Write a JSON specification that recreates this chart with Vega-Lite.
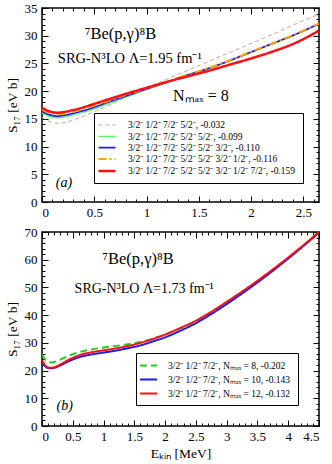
{
"$schema": "https://vega.github.io/schema/vega-lite/v6.json",
"padding": {"left": 4, "top": 1, "right": 2, "bottom": 2},
"background": "white",
"spacing": 5,
"resolve": {"scale": {"x": "independent", "y": "independent", "color": "independent", "strokeDash": "independent", "strokeWidth": "independent"}, "legend": {"color": "independent", "strokeDash": "independent", "strokeWidth": "independent"}, "axis": {"x": "independent", "y": "independent"}},
"config": {
  "font": "Liberation Serif",
  "view": {"stroke": "black", "strokeWidth": 1.5},
  "axis": {"labelFont": "Liberation Serif", "labelFontSize": 13, "labelColor": "black", "titleFont": "Liberation Serif", "titleFontSize": 13.5, "titleFontWeight": "normal", "titleColor": "black", "grid": false, "domain": false, "tickColor": "black", "tickWidth": 1, "zindex": 1},
  "legend": {"labelFont": "Liberation Serif", "labelFontSize": 9.5, "labelColor": "black", "labelLimit": 0, "symbolType": "M-1.9,0H1.9", "symbolSize": 81, "strokeColor": "black", "fillColor": "white", "cornerRadius": 0, "title": null},
  "text": {"font": "Liberation Serif", "color": "black"}
},
"datasets": {
"a": [
{"x":0,"y":15.3,"s":"3/2⁻ 1/2⁻ 7/2⁻ 5/2⁻, -0.032"},{"x":0.05,"y":14.7,"s":"3/2⁻ 1/2⁻ 7/2⁻ 5/2⁻, -0.032"},{"x":0.1,"y":14.35,"s":"3/2⁻ 1/2⁻ 7/2⁻ 5/2⁻, -0.032"},{"x":0.15,"y":14.2,"s":"3/2⁻ 1/2⁻ 7/2⁻ 5/2⁻, -0.032"},{"x":0.2,"y":14.3,"s":"3/2⁻ 1/2⁻ 7/2⁻ 5/2⁻, -0.032"},{"x":0.3,"y":14.8,"s":"3/2⁻ 1/2⁻ 7/2⁻ 5/2⁻, -0.032"},{"x":0.4,"y":15.5,"s":"3/2⁻ 1/2⁻ 7/2⁻ 5/2⁻, -0.032"},{"x":0.5,"y":16.3,"s":"3/2⁻ 1/2⁻ 7/2⁻ 5/2⁻, -0.032"},{"x":0.6,"y":17.1,"s":"3/2⁻ 1/2⁻ 7/2⁻ 5/2⁻, -0.032"},{"x":0.8,"y":18.9,"s":"3/2⁻ 1/2⁻ 7/2⁻ 5/2⁻, -0.032"},{"x":1.0,"y":20.6,"s":"3/2⁻ 1/2⁻ 7/2⁻ 5/2⁻, -0.032"},{"x":1.2,"y":22.2,"s":"3/2⁻ 1/2⁻ 7/2⁻ 5/2⁻, -0.032"},{"x":1.4,"y":23.8,"s":"3/2⁻ 1/2⁻ 7/2⁻ 5/2⁻, -0.032"},{"x":1.6,"y":25.4,"s":"3/2⁻ 1/2⁻ 7/2⁻ 5/2⁻, -0.032"},{"x":1.8,"y":27.0,"s":"3/2⁻ 1/2⁻ 7/2⁻ 5/2⁻, -0.032"},{"x":2.0,"y":28.6,"s":"3/2⁻ 1/2⁻ 7/2⁻ 5/2⁻, -0.032"},{"x":2.2,"y":30.2,"s":"3/2⁻ 1/2⁻ 7/2⁻ 5/2⁻, -0.032"},{"x":2.4,"y":31.9,"s":"3/2⁻ 1/2⁻ 7/2⁻ 5/2⁻, -0.032"},{"x":2.65,"y":33.9,"s":"3/2⁻ 1/2⁻ 7/2⁻ 5/2⁻, -0.032"},
{"x":0,"y":16.1,"s":"3/2⁻ 1/2⁻ 7/2⁻ 5/2⁻ 5/2⁻, -0.099"},{"x":0.05,"y":15.6,"s":"3/2⁻ 1/2⁻ 7/2⁻ 5/2⁻ 5/2⁻, -0.099"},{"x":0.1,"y":15.3,"s":"3/2⁻ 1/2⁻ 7/2⁻ 5/2⁻ 5/2⁻, -0.099"},{"x":0.15,"y":15.2,"s":"3/2⁻ 1/2⁻ 7/2⁻ 5/2⁻ 5/2⁻, -0.099"},{"x":0.2,"y":15.3,"s":"3/2⁻ 1/2⁻ 7/2⁻ 5/2⁻ 5/2⁻, -0.099"},{"x":0.3,"y":15.7,"s":"3/2⁻ 1/2⁻ 7/2⁻ 5/2⁻ 5/2⁻, -0.099"},{"x":0.4,"y":16.2,"s":"3/2⁻ 1/2⁻ 7/2⁻ 5/2⁻ 5/2⁻, -0.099"},{"x":0.5,"y":16.8,"s":"3/2⁻ 1/2⁻ 7/2⁻ 5/2⁻ 5/2⁻, -0.099"},{"x":0.6,"y":17.5,"s":"3/2⁻ 1/2⁻ 7/2⁻ 5/2⁻ 5/2⁻, -0.099"},{"x":0.8,"y":18.9,"s":"3/2⁻ 1/2⁻ 7/2⁻ 5/2⁻ 5/2⁻, -0.099"},{"x":1.0,"y":20.3,"s":"3/2⁻ 1/2⁻ 7/2⁻ 5/2⁻ 5/2⁻, -0.099"},{"x":1.2,"y":21.6,"s":"3/2⁻ 1/2⁻ 7/2⁻ 5/2⁻ 5/2⁻, -0.099"},{"x":1.4,"y":22.9,"s":"3/2⁻ 1/2⁻ 7/2⁻ 5/2⁻ 5/2⁻, -0.099"},{"x":1.6,"y":24.1,"s":"3/2⁻ 1/2⁻ 7/2⁻ 5/2⁻ 5/2⁻, -0.099"},{"x":1.8,"y":25.5,"s":"3/2⁻ 1/2⁻ 7/2⁻ 5/2⁻ 5/2⁻, -0.099"},{"x":2.0,"y":27.0,"s":"3/2⁻ 1/2⁻ 7/2⁻ 5/2⁻ 5/2⁻, -0.099"},{"x":2.2,"y":28.5,"s":"3/2⁻ 1/2⁻ 7/2⁻ 5/2⁻ 5/2⁻, -0.099"},{"x":2.4,"y":30.0,"s":"3/2⁻ 1/2⁻ 7/2⁻ 5/2⁻ 5/2⁻, -0.099"},{"x":2.65,"y":32.1,"s":"3/2⁻ 1/2⁻ 7/2⁻ 5/2⁻ 5/2⁻, -0.099"},
{"x":0,"y":16.4,"s":"3/2⁻ 1/2⁻ 7/2⁻ 5/2⁻ 5/2⁻ 3/2⁻, -0.110"},{"x":0.05,"y":15.9,"s":"3/2⁻ 1/2⁻ 7/2⁻ 5/2⁻ 5/2⁻ 3/2⁻, -0.110"},{"x":0.1,"y":15.6,"s":"3/2⁻ 1/2⁻ 7/2⁻ 5/2⁻ 5/2⁻ 3/2⁻, -0.110"},{"x":0.15,"y":15.5,"s":"3/2⁻ 1/2⁻ 7/2⁻ 5/2⁻ 5/2⁻ 3/2⁻, -0.110"},{"x":0.2,"y":15.6,"s":"3/2⁻ 1/2⁻ 7/2⁻ 5/2⁻ 5/2⁻ 3/2⁻, -0.110"},{"x":0.3,"y":16.0,"s":"3/2⁻ 1/2⁻ 7/2⁻ 5/2⁻ 5/2⁻ 3/2⁻, -0.110"},{"x":0.4,"y":16.5,"s":"3/2⁻ 1/2⁻ 7/2⁻ 5/2⁻ 5/2⁻ 3/2⁻, -0.110"},{"x":0.5,"y":17.1,"s":"3/2⁻ 1/2⁻ 7/2⁻ 5/2⁻ 5/2⁻ 3/2⁻, -0.110"},{"x":0.6,"y":17.8,"s":"3/2⁻ 1/2⁻ 7/2⁻ 5/2⁻ 5/2⁻ 3/2⁻, -0.110"},{"x":0.8,"y":19.1,"s":"3/2⁻ 1/2⁻ 7/2⁻ 5/2⁻ 5/2⁻ 3/2⁻, -0.110"},{"x":1.0,"y":20.4,"s":"3/2⁻ 1/2⁻ 7/2⁻ 5/2⁻ 5/2⁻ 3/2⁻, -0.110"},{"x":1.2,"y":21.65,"s":"3/2⁻ 1/2⁻ 7/2⁻ 5/2⁻ 5/2⁻ 3/2⁻, -0.110"},{"x":1.4,"y":22.95,"s":"3/2⁻ 1/2⁻ 7/2⁻ 5/2⁻ 5/2⁻ 3/2⁻, -0.110"},{"x":1.6,"y":24.15,"s":"3/2⁻ 1/2⁻ 7/2⁻ 5/2⁻ 5/2⁻ 3/2⁻, -0.110"},{"x":1.8,"y":25.55,"s":"3/2⁻ 1/2⁻ 7/2⁻ 5/2⁻ 5/2⁻ 3/2⁻, -0.110"},{"x":2.0,"y":27.05,"s":"3/2⁻ 1/2⁻ 7/2⁻ 5/2⁻ 5/2⁻ 3/2⁻, -0.110"},{"x":2.2,"y":28.55,"s":"3/2⁻ 1/2⁻ 7/2⁻ 5/2⁻ 5/2⁻ 3/2⁻, -0.110"},{"x":2.4,"y":30.05,"s":"3/2⁻ 1/2⁻ 7/2⁻ 5/2⁻ 5/2⁻ 3/2⁻, -0.110"},{"x":2.65,"y":32.15,"s":"3/2⁻ 1/2⁻ 7/2⁻ 5/2⁻ 5/2⁻ 3/2⁻, -0.110"},
{"x":0,"y":16.7,"s":"3/2⁻ 1/2⁻ 7/2⁻ 5/2⁻ 5/2⁻ 3/2⁻ 1/2⁻, -0.116"},{"x":0.05,"y":16.2,"s":"3/2⁻ 1/2⁻ 7/2⁻ 5/2⁻ 5/2⁻ 3/2⁻ 1/2⁻, -0.116"},{"x":0.1,"y":15.9,"s":"3/2⁻ 1/2⁻ 7/2⁻ 5/2⁻ 5/2⁻ 3/2⁻ 1/2⁻, -0.116"},{"x":0.15,"y":15.8,"s":"3/2⁻ 1/2⁻ 7/2⁻ 5/2⁻ 5/2⁻ 3/2⁻ 1/2⁻, -0.116"},{"x":0.2,"y":15.9,"s":"3/2⁻ 1/2⁻ 7/2⁻ 5/2⁻ 5/2⁻ 3/2⁻ 1/2⁻, -0.116"},{"x":0.3,"y":16.3,"s":"3/2⁻ 1/2⁻ 7/2⁻ 5/2⁻ 5/2⁻ 3/2⁻ 1/2⁻, -0.116"},{"x":0.4,"y":16.8,"s":"3/2⁻ 1/2⁻ 7/2⁻ 5/2⁻ 5/2⁻ 3/2⁻ 1/2⁻, -0.116"},{"x":0.5,"y":17.4,"s":"3/2⁻ 1/2⁻ 7/2⁻ 5/2⁻ 5/2⁻ 3/2⁻ 1/2⁻, -0.116"},{"x":0.6,"y":18.0,"s":"3/2⁻ 1/2⁻ 7/2⁻ 5/2⁻ 5/2⁻ 3/2⁻ 1/2⁻, -0.116"},{"x":0.8,"y":19.3,"s":"3/2⁻ 1/2⁻ 7/2⁻ 5/2⁻ 5/2⁻ 3/2⁻ 1/2⁻, -0.116"},{"x":1.0,"y":20.5,"s":"3/2⁻ 1/2⁻ 7/2⁻ 5/2⁻ 5/2⁻ 3/2⁻ 1/2⁻, -0.116"},{"x":1.2,"y":21.7,"s":"3/2⁻ 1/2⁻ 7/2⁻ 5/2⁻ 5/2⁻ 3/2⁻ 1/2⁻, -0.116"},{"x":1.4,"y":23.0,"s":"3/2⁻ 1/2⁻ 7/2⁻ 5/2⁻ 5/2⁻ 3/2⁻ 1/2⁻, -0.116"},{"x":1.6,"y":24.2,"s":"3/2⁻ 1/2⁻ 7/2⁻ 5/2⁻ 5/2⁻ 3/2⁻ 1/2⁻, -0.116"},{"x":1.8,"y":25.6,"s":"3/2⁻ 1/2⁻ 7/2⁻ 5/2⁻ 5/2⁻ 3/2⁻ 1/2⁻, -0.116"},{"x":2.0,"y":27.1,"s":"3/2⁻ 1/2⁻ 7/2⁻ 5/2⁻ 5/2⁻ 3/2⁻ 1/2⁻, -0.116"},{"x":2.2,"y":28.6,"s":"3/2⁻ 1/2⁻ 7/2⁻ 5/2⁻ 5/2⁻ 3/2⁻ 1/2⁻, -0.116"},{"x":2.4,"y":30.1,"s":"3/2⁻ 1/2⁻ 7/2⁻ 5/2⁻ 5/2⁻ 3/2⁻ 1/2⁻, -0.116"},{"x":2.65,"y":32.2,"s":"3/2⁻ 1/2⁻ 7/2⁻ 5/2⁻ 5/2⁻ 3/2⁻ 1/2⁻, -0.116"},
{"x":0,"y":17.0,"s":"3/2⁻ 1/2⁻ 7/2⁻ 5/2⁻ 5/2⁻ 3/2⁻ 1/2⁻ 7/2⁻, -0.159"},{"x":0.05,"y":16.5,"s":"3/2⁻ 1/2⁻ 7/2⁻ 5/2⁻ 5/2⁻ 3/2⁻ 1/2⁻ 7/2⁻, -0.159"},{"x":0.1,"y":16.2,"s":"3/2⁻ 1/2⁻ 7/2⁻ 5/2⁻ 5/2⁻ 3/2⁻ 1/2⁻ 7/2⁻, -0.159"},{"x":0.15,"y":16.1,"s":"3/2⁻ 1/2⁻ 7/2⁻ 5/2⁻ 5/2⁻ 3/2⁻ 1/2⁻ 7/2⁻, -0.159"},{"x":0.2,"y":16.2,"s":"3/2⁻ 1/2⁻ 7/2⁻ 5/2⁻ 5/2⁻ 3/2⁻ 1/2⁻ 7/2⁻, -0.159"},{"x":0.3,"y":16.6,"s":"3/2⁻ 1/2⁻ 7/2⁻ 5/2⁻ 5/2⁻ 3/2⁻ 1/2⁻ 7/2⁻, -0.159"},{"x":0.4,"y":17.1,"s":"3/2⁻ 1/2⁻ 7/2⁻ 5/2⁻ 5/2⁻ 3/2⁻ 1/2⁻ 7/2⁻, -0.159"},{"x":0.5,"y":17.7,"s":"3/2⁻ 1/2⁻ 7/2⁻ 5/2⁻ 5/2⁻ 3/2⁻ 1/2⁻ 7/2⁻, -0.159"},{"x":0.6,"y":18.3,"s":"3/2⁻ 1/2⁻ 7/2⁻ 5/2⁻ 5/2⁻ 3/2⁻ 1/2⁻ 7/2⁻, -0.159"},{"x":0.8,"y":19.5,"s":"3/2⁻ 1/2⁻ 7/2⁻ 5/2⁻ 5/2⁻ 3/2⁻ 1/2⁻ 7/2⁻, -0.159"},{"x":1.0,"y":20.6,"s":"3/2⁻ 1/2⁻ 7/2⁻ 5/2⁻ 5/2⁻ 3/2⁻ 1/2⁻ 7/2⁻, -0.159"},{"x":1.2,"y":21.7,"s":"3/2⁻ 1/2⁻ 7/2⁻ 5/2⁻ 5/2⁻ 3/2⁻ 1/2⁻ 7/2⁻, -0.159"},{"x":1.4,"y":22.7,"s":"3/2⁻ 1/2⁻ 7/2⁻ 5/2⁻ 5/2⁻ 3/2⁻ 1/2⁻ 7/2⁻, -0.159"},{"x":1.6,"y":23.7,"s":"3/2⁻ 1/2⁻ 7/2⁻ 5/2⁻ 5/2⁻ 3/2⁻ 1/2⁻ 7/2⁻, -0.159"},{"x":1.8,"y":24.8,"s":"3/2⁻ 1/2⁻ 7/2⁻ 5/2⁻ 5/2⁻ 3/2⁻ 1/2⁻ 7/2⁻, -0.159"},{"x":2.0,"y":25.9,"s":"3/2⁻ 1/2⁻ 7/2⁻ 5/2⁻ 5/2⁻ 3/2⁻ 1/2⁻ 7/2⁻, -0.159"},{"x":2.2,"y":27.1,"s":"3/2⁻ 1/2⁻ 7/2⁻ 5/2⁻ 5/2⁻ 3/2⁻ 1/2⁻ 7/2⁻, -0.159"},{"x":2.4,"y":28.5,"s":"3/2⁻ 1/2⁻ 7/2⁻ 5/2⁻ 5/2⁻ 3/2⁻ 1/2⁻ 7/2⁻, -0.159"},{"x":2.65,"y":30.9,"s":"3/2⁻ 1/2⁻ 7/2⁻ 5/2⁻ 5/2⁻ 3/2⁻ 1/2⁻ 7/2⁻, -0.159"}
],
"b": [
{"x":0,"y":25.8,"s":"3/2⁻ 1/2⁻ 7/2⁻, Nₘₐₓ = 8, -0.202"},{"x":0.05,"y":24.0,"s":"3/2⁻ 1/2⁻ 7/2⁻, Nₘₐₓ = 8, -0.202"},{"x":0.1,"y":23.1,"s":"3/2⁻ 1/2⁻ 7/2⁻, Nₘₐₓ = 8, -0.202"},{"x":0.15,"y":22.9,"s":"3/2⁻ 1/2⁻ 7/2⁻, Nₘₐₓ = 8, -0.202"},{"x":0.2,"y":23.1,"s":"3/2⁻ 1/2⁻ 7/2⁻, Nₘₐₓ = 8, -0.202"},{"x":0.3,"y":24.0,"s":"3/2⁻ 1/2⁻ 7/2⁻, Nₘₐₓ = 8, -0.202"},{"x":0.4,"y":25.0,"s":"3/2⁻ 1/2⁻ 7/2⁻, Nₘₐₓ = 8, -0.202"},{"x":0.5,"y":25.9,"s":"3/2⁻ 1/2⁻ 7/2⁻, Nₘₐₓ = 8, -0.202"},{"x":0.6,"y":26.6,"s":"3/2⁻ 1/2⁻ 7/2⁻, Nₘₐₓ = 8, -0.202"},{"x":0.8,"y":27.6,"s":"3/2⁻ 1/2⁻ 7/2⁻, Nₘₐₓ = 8, -0.202"},{"x":1.0,"y":28.3,"s":"3/2⁻ 1/2⁻ 7/2⁻, Nₘₐₓ = 8, -0.202"},{"x":1.2,"y":28.9,"s":"3/2⁻ 1/2⁻ 7/2⁻, Nₘₐₓ = 8, -0.202"},{"x":1.4,"y":29.5,"s":"3/2⁻ 1/2⁻ 7/2⁻, Nₘₐₓ = 8, -0.202"},{"x":1.6,"y":30.3,"s":"3/2⁻ 1/2⁻ 7/2⁻, Nₘₐₓ = 8, -0.202"},{"x":1.8,"y":31.5,"s":"3/2⁻ 1/2⁻ 7/2⁻, Nₘₐₓ = 8, -0.202"},{"x":2.0,"y":33.0,"s":"3/2⁻ 1/2⁻ 7/2⁻, Nₘₐₓ = 8, -0.202"},{"x":2.25,"y":35.3,"s":"3/2⁻ 1/2⁻ 7/2⁻, Nₘₐₓ = 8, -0.202"},{"x":2.5,"y":37.9,"s":"3/2⁻ 1/2⁻ 7/2⁻, Nₘₐₓ = 8, -0.202"},{"x":2.75,"y":41.1,"s":"3/2⁻ 1/2⁻ 7/2⁻, Nₘₐₓ = 8, -0.202"},{"x":3.0,"y":44.7,"s":"3/2⁻ 1/2⁻ 7/2⁻, Nₘₐₓ = 8, -0.202"},{"x":3.25,"y":48.4,"s":"3/2⁻ 1/2⁻ 7/2⁻, Nₘₐₓ = 8, -0.202"},{"x":3.5,"y":52.3,"s":"3/2⁻ 1/2⁻ 7/2⁻, Nₘₐₓ = 8, -0.202"},{"x":3.75,"y":56.4,"s":"3/2⁻ 1/2⁻ 7/2⁻, Nₘₐₓ = 8, -0.202"},{"x":4.0,"y":60.7,"s":"3/2⁻ 1/2⁻ 7/2⁻, Nₘₐₓ = 8, -0.202"},{"x":4.25,"y":65.2,"s":"3/2⁻ 1/2⁻ 7/2⁻, Nₘₐₓ = 8, -0.202"},{"x":4.5,"y":70.0,"s":"3/2⁻ 1/2⁻ 7/2⁻, Nₘₐₓ = 8, -0.202"},
{"x":0,"y":23.5,"s":"3/2⁻ 1/2⁻ 7/2⁻, Nₘₐₓ = 10, -0.143"},{"x":0.05,"y":21.6,"s":"3/2⁻ 1/2⁻ 7/2⁻, Nₘₐₓ = 10, -0.143"},{"x":0.1,"y":20.9,"s":"3/2⁻ 1/2⁻ 7/2⁻, Nₘₐₓ = 10, -0.143"},{"x":0.15,"y":20.8,"s":"3/2⁻ 1/2⁻ 7/2⁻, Nₘₐₓ = 10, -0.143"},{"x":0.2,"y":21.0,"s":"3/2⁻ 1/2⁻ 7/2⁻, Nₘₐₓ = 10, -0.143"},{"x":0.3,"y":21.9,"s":"3/2⁻ 1/2⁻ 7/2⁻, Nₘₐₓ = 10, -0.143"},{"x":0.4,"y":23.0,"s":"3/2⁻ 1/2⁻ 7/2⁻, Nₘₐₓ = 10, -0.143"},{"x":0.5,"y":24.0,"s":"3/2⁻ 1/2⁻ 7/2⁻, Nₘₐₓ = 10, -0.143"},{"x":0.6,"y":24.8,"s":"3/2⁻ 1/2⁻ 7/2⁻, Nₘₐₓ = 10, -0.143"},{"x":0.8,"y":25.8,"s":"3/2⁻ 1/2⁻ 7/2⁻, Nₘₐₓ = 10, -0.143"},{"x":1.0,"y":26.5,"s":"3/2⁻ 1/2⁻ 7/2⁻, Nₘₐₓ = 10, -0.143"},{"x":1.2,"y":27.2,"s":"3/2⁻ 1/2⁻ 7/2⁻, Nₘₐₓ = 10, -0.143"},{"x":1.4,"y":28.1,"s":"3/2⁻ 1/2⁻ 7/2⁻, Nₘₐₓ = 10, -0.143"},{"x":1.6,"y":29.1,"s":"3/2⁻ 1/2⁻ 7/2⁻, Nₘₐₓ = 10, -0.143"},{"x":1.8,"y":30.5,"s":"3/2⁻ 1/2⁻ 7/2⁻, Nₘₐₓ = 10, -0.143"},{"x":2.0,"y":32.0,"s":"3/2⁻ 1/2⁻ 7/2⁻, Nₘₐₓ = 10, -0.143"},{"x":2.25,"y":34.4,"s":"3/2⁻ 1/2⁻ 7/2⁻, Nₘₐₓ = 10, -0.143"},{"x":2.5,"y":37.1,"s":"3/2⁻ 1/2⁻ 7/2⁻, Nₘₐₓ = 10, -0.143"},{"x":2.75,"y":40.4,"s":"3/2⁻ 1/2⁻ 7/2⁻, Nₘₐₓ = 10, -0.143"},{"x":3.0,"y":44.0,"s":"3/2⁻ 1/2⁻ 7/2⁻, Nₘₐₓ = 10, -0.143"},{"x":3.25,"y":47.8,"s":"3/2⁻ 1/2⁻ 7/2⁻, Nₘₐₓ = 10, -0.143"},{"x":3.5,"y":51.8,"s":"3/2⁻ 1/2⁻ 7/2⁻, Nₘₐₓ = 10, -0.143"},{"x":3.75,"y":56.0,"s":"3/2⁻ 1/2⁻ 7/2⁻, Nₘₐₓ = 10, -0.143"},{"x":4.0,"y":60.4,"s":"3/2⁻ 1/2⁻ 7/2⁻, Nₘₐₓ = 10, -0.143"},{"x":4.25,"y":65.0,"s":"3/2⁻ 1/2⁻ 7/2⁻, Nₘₐₓ = 10, -0.143"},{"x":4.5,"y":69.8,"s":"3/2⁻ 1/2⁻ 7/2⁻, Nₘₐₓ = 10, -0.143"},
{"x":0,"y":23.8,"s":"3/2⁻ 1/2⁻ 7/2⁻, Nₘₐₓ = 12, -0.132"},{"x":0.05,"y":21.9,"s":"3/2⁻ 1/2⁻ 7/2⁻, Nₘₐₓ = 12, -0.132"},{"x":0.1,"y":21.1,"s":"3/2⁻ 1/2⁻ 7/2⁻, Nₘₐₓ = 12, -0.132"},{"x":0.15,"y":21.0,"s":"3/2⁻ 1/2⁻ 7/2⁻, Nₘₐₓ = 12, -0.132"},{"x":0.2,"y":21.2,"s":"3/2⁻ 1/2⁻ 7/2⁻, Nₘₐₓ = 12, -0.132"},{"x":0.3,"y":22.2,"s":"3/2⁻ 1/2⁻ 7/2⁻, Nₘₐₓ = 12, -0.132"},{"x":0.4,"y":23.5,"s":"3/2⁻ 1/2⁻ 7/2⁻, Nₘₐₓ = 12, -0.132"},{"x":0.5,"y":24.6,"s":"3/2⁻ 1/2⁻ 7/2⁻, Nₘₐₓ = 12, -0.132"},{"x":0.6,"y":25.5,"s":"3/2⁻ 1/2⁻ 7/2⁻, Nₘₐₓ = 12, -0.132"},{"x":0.8,"y":26.6,"s":"3/2⁻ 1/2⁻ 7/2⁻, Nₘₐₓ = 12, -0.132"},{"x":1.0,"y":27.3,"s":"3/2⁻ 1/2⁻ 7/2⁻, Nₘₐₓ = 12, -0.132"},{"x":1.2,"y":28.0,"s":"3/2⁻ 1/2⁻ 7/2⁻, Nₘₐₓ = 12, -0.132"},{"x":1.4,"y":28.9,"s":"3/2⁻ 1/2⁻ 7/2⁻, Nₘₐₓ = 12, -0.132"},{"x":1.6,"y":30.0,"s":"3/2⁻ 1/2⁻ 7/2⁻, Nₘₐₓ = 12, -0.132"},{"x":1.8,"y":31.4,"s":"3/2⁻ 1/2⁻ 7/2⁻, Nₘₐₓ = 12, -0.132"},{"x":2.0,"y":33.0,"s":"3/2⁻ 1/2⁻ 7/2⁻, Nₘₐₓ = 12, -0.132"},{"x":2.25,"y":35.4,"s":"3/2⁻ 1/2⁻ 7/2⁻, Nₘₐₓ = 12, -0.132"},{"x":2.5,"y":38.0,"s":"3/2⁻ 1/2⁻ 7/2⁻, Nₘₐₓ = 12, -0.132"},{"x":2.75,"y":41.2,"s":"3/2⁻ 1/2⁻ 7/2⁻, Nₘₐₓ = 12, -0.132"},{"x":3.0,"y":44.8,"s":"3/2⁻ 1/2⁻ 7/2⁻, Nₘₐₓ = 12, -0.132"},{"x":3.25,"y":48.5,"s":"3/2⁻ 1/2⁻ 7/2⁻, Nₘₐₓ = 12, -0.132"},{"x":3.5,"y":52.4,"s":"3/2⁻ 1/2⁻ 7/2⁻, Nₘₐₓ = 12, -0.132"},{"x":3.75,"y":56.5,"s":"3/2⁻ 1/2⁻ 7/2⁻, Nₘₐₓ = 12, -0.132"},{"x":4.0,"y":60.8,"s":"3/2⁻ 1/2⁻ 7/2⁻, Nₘₐₓ = 12, -0.132"},{"x":4.25,"y":65.3,"s":"3/2⁻ 1/2⁻ 7/2⁻, Nₘₐₓ = 12, -0.132"},{"x":4.5,"y":70.0,"s":"3/2⁻ 1/2⁻ 7/2⁻, Nₘₐₓ = 12, -0.132"}
]
},
"vconcat": [
{
  "width": 277, "height": 194,
  "data": {"name": "a"},
  "resolve": {"axis": {"x": "independent", "y": "independent"}},
  "layer": [
    {
      "mark": {"type": "line", "interpolate": "monotone", "clip": true},
      "encoding": {
        "x": {"field": "x", "type": "quantitative", "scale": {"domain": [0, 2.65], "nice": false, "zero": false}, "axis": {"orient": "bottom", "values": [0, 0.5, 1, 1.5, 2, 2.5], "format": "~g", "ticks": false, "labelPadding": 4, "title": null}},
        "y": {"field": "y", "type": "quantitative", "scale": {"domain": [0, 35], "nice": false}, "axis": {"orient": "left", "values": [0, 5, 10, 15, 20, 25, 30, 35], "ticks": false, "labelPadding": 5, "title": "S₁₇ [eV b]", "titlePadding": 5}},
        "color": {"field": "s", "type": "nominal", "scale": {"domain": ["3/2⁻ 1/2⁻ 7/2⁻ 5/2⁻, -0.032", "3/2⁻ 1/2⁻ 7/2⁻ 5/2⁻ 5/2⁻, -0.099", "3/2⁻ 1/2⁻ 7/2⁻ 5/2⁻ 5/2⁻ 3/2⁻, -0.110", "3/2⁻ 1/2⁻ 7/2⁻ 5/2⁻ 5/2⁻ 3/2⁻ 1/2⁻, -0.116", "3/2⁻ 1/2⁻ 7/2⁻ 5/2⁻ 5/2⁻ 3/2⁻ 1/2⁻ 7/2⁻, -0.159"], "range": ["#c9a0a0", "#66f266", "#1a1aff", "#ffa500", "#ff1010"]}, "legend": {"orient": "none", "legendX": 52, "legendY": 105, "padding": 7, "rowPadding": 1, "labelOffset": 15}},
        "strokeDash": {"field": "s", "type": "nominal", "scale": {"domain": ["3/2⁻ 1/2⁻ 7/2⁻ 5/2⁻, -0.032", "3/2⁻ 1/2⁻ 7/2⁻ 5/2⁻ 5/2⁻, -0.099", "3/2⁻ 1/2⁻ 7/2⁻ 5/2⁻ 5/2⁻ 3/2⁻, -0.110", "3/2⁻ 1/2⁻ 7/2⁻ 5/2⁻ 5/2⁻ 3/2⁻ 1/2⁻, -0.116", "3/2⁻ 1/2⁻ 7/2⁻ 5/2⁻ 5/2⁻ 3/2⁻ 1/2⁻ 7/2⁻, -0.159"], "range": [[4, 3], [1, 0], [1, 0], [8, 3, 2, 3], [1, 0]]}, "legend": {"orient": "none", "legendX": 52, "legendY": 105, "padding": 7, "rowPadding": 1, "labelOffset": 15}},
        "strokeWidth": {"field": "s", "type": "nominal", "scale": {"domain": ["3/2⁻ 1/2⁻ 7/2⁻ 5/2⁻, -0.032", "3/2⁻ 1/2⁻ 7/2⁻ 5/2⁻ 5/2⁻, -0.099", "3/2⁻ 1/2⁻ 7/2⁻ 5/2⁻ 5/2⁻ 3/2⁻, -0.110", "3/2⁻ 1/2⁻ 7/2⁻ 5/2⁻ 5/2⁻ 3/2⁻ 1/2⁻, -0.116", "3/2⁻ 1/2⁻ 7/2⁻ 5/2⁻ 5/2⁻ 3/2⁻ 1/2⁻ 7/2⁻, -0.159"], "range": [1, 2.5, 1.5, 2.5, 2.5]}, "legend": {"orient": "none", "legendX": 52, "legendY": 105, "padding": 7, "rowPadding": 1, "labelOffset": 15}}
      }
    },
    {
      "data": {"values": [{}]},
      "mark": {"type": "point", "opacity": 0},
      "encoding": {
        "x": {"datum": 0, "type": "quantitative", "axis": {"orient": "bottom", "values": [0, 0.5, 1, 1.5, 2, 2.5], "labels": false, "tickSize": -6, "title": null}},
        "y": {"datum": 0, "type": "quantitative", "axis": {"orient": "left", "values": [0, 5, 10, 15, 20, 25, 30, 35], "labels": false, "tickSize": -6, "title": null}}
      }
    },
    {
      "data": {"values": [{}]},
      "mark": {"type": "point", "opacity": 0},
      "encoding": {
        "x": {"datum": 0, "type": "quantitative", "axis": {"orient": "top", "values": [0, 0.5, 1, 1.5, 2, 2.5], "labels": false, "tickSize": -6, "title": null}},
        "y": {"datum": 0, "type": "quantitative", "axis": {"orient": "right", "values": [0, 5, 10, 15, 20, 25, 30, 35], "labels": false, "tickSize": -6, "title": null}}
      }
    },
    {
      "data": {"values": [{}]},
      "mark": {"type": "point", "opacity": 0},
      "encoding": {
        "x": {"datum": 0, "type": "quantitative", "axis": {"orient": "bottom", "values": [0.1,0.2,0.3,0.4,0.6,0.7,0.8,0.9,1.1,1.2,1.3,1.4,1.6,1.7,1.8,1.9,2.1,2.2,2.3,2.4,2.6], "labels": false, "tickSize": -3, "title": null}},
        "y": {"datum": 0, "type": "quantitative", "axis": {"orient": "left", "values": [1,2,3,4,6,7,8,9,11,12,13,14,16,17,18,19,21,22,23,24,26,27,28,29,31,32,33,34], "labels": false, "tickSize": -3, "title": null}}
      }
    },
    {
      "data": {"values": [{}]},
      "mark": {"type": "point", "opacity": 0},
      "encoding": {
        "x": {"datum": 0, "type": "quantitative", "axis": {"orient": "top", "values": [0.1,0.2,0.3,0.4,0.6,0.7,0.8,0.9,1.1,1.2,1.3,1.4,1.6,1.7,1.8,1.9,2.1,2.2,2.3,2.4,2.6], "labels": false, "tickSize": -3, "title": null}},
        "y": {"datum": 0, "type": "quantitative", "axis": {"orient": "right", "values": [1,2,3,4,6,7,8,9,11,12,13,14,16,17,18,19,21,22,23,24,26,27,28,29,31,32,33,34], "labels": false, "tickSize": -3, "title": null}}
      }
    },
    {
      "data": {"values": [{}]},
      "mark": {"type": "text", "fontSize": 16.5, "align": "center", "baseline": "middle"},
      "encoding": {"x": {"datum": 0.75, "type": "quantitative", "axis": null}, "y": {"datum": 30.3, "type": "quantitative", "axis": null}, "text": {"value": "⁷Be(p,γ)⁸B"}}
    },
    {
      "data": {"values": [{}]},
      "mark": {"type": "text", "fontSize": 14.5, "align": "center", "baseline": "middle"},
      "encoding": {"x": {"datum": 0.84, "type": "quantitative", "axis": null}, "y": {"datum": 25.8, "type": "quantitative", "axis": null}, "text": {"value": "SRG-N³LO Λ=1.95 fm⁻¹"}}
    },
    {
      "data": {"values": [{}]},
      "mark": {"type": "text", "fontSize": 16, "align": "center", "baseline": "middle"},
      "encoding": {"x": {"datum": 1.52, "type": "quantitative", "axis": null}, "y": {"datum": 19.1, "type": "quantitative", "axis": null}, "text": {"value": "Nₘₐₓ = 8"}}
    },
    {
      "data": {"values": [{}]},
      "mark": {"type": "text", "fontSize": 14, "fontStyle": "italic", "align": "center", "baseline": "middle"},
      "encoding": {"x": {"datum": 0.21, "type": "quantitative", "axis": null}, "y": {"datum": 3.4, "type": "quantitative", "axis": null}, "text": {"value": "(a)"}}
    }
  ]
},
{
  "width": 277, "height": 194,
  "data": {"name": "b"},
  "resolve": {"axis": {"x": "independent", "y": "independent"}},
  "layer": [
    {
      "mark": {"type": "line", "interpolate": "monotone", "clip": true},
      "encoding": {
        "x": {"field": "x", "type": "quantitative", "scale": {"domain": [0, 4.5], "nice": false, "zero": false}, "axis": {"orient": "bottom", "values": [0, 0.5, 1, 1.5, 2, 2.5, 3, 3.5, 4, 4.5], "format": "~g", "ticks": false, "labelPadding": 4, "title": "Eₖᵢₙ [MeV]", "titlePadding": 3}},
        "y": {"field": "y", "type": "quantitative", "scale": {"domain": [0, 70], "nice": false}, "axis": {"orient": "left", "values": [0, 10, 20, 30, 40, 50, 60, 70], "ticks": false, "labelPadding": 5, "title": "S₁₇ [eV b]", "titlePadding": 5}},
        "color": {"field": "s", "type": "nominal", "scale": {"domain": ["3/2⁻ 1/2⁻ 7/2⁻, Nₘₐₓ = 8, -0.202", "3/2⁻ 1/2⁻ 7/2⁻, Nₘₐₓ = 10, -0.143", "3/2⁻ 1/2⁻ 7/2⁻, Nₘₐₓ = 12, -0.132"], "range": ["#22d022", "#1a1aff", "#ff1010"]}, "legend": {"orient": "none", "legendX": 94, "legendY": 121, "padding": 7, "rowPadding": 4, "labelOffset": 14}},
        "strokeDash": {"field": "s", "type": "nominal", "scale": {"domain": ["3/2⁻ 1/2⁻ 7/2⁻, Nₘₐₓ = 8, -0.202", "3/2⁻ 1/2⁻ 7/2⁻, Nₘₐₓ = 10, -0.143", "3/2⁻ 1/2⁻ 7/2⁻, Nₘₐₓ = 12, -0.132"], "range": [[7, 4], [1, 0], [1, 0]]}, "legend": {"orient": "none", "legendX": 94, "legendY": 121, "padding": 7, "rowPadding": 4, "labelOffset": 14}},
        "strokeWidth": {"field": "s", "type": "nominal", "scale": {"domain": ["3/2⁻ 1/2⁻ 7/2⁻, Nₘₐₓ = 8, -0.202", "3/2⁻ 1/2⁻ 7/2⁻, Nₘₐₓ = 10, -0.143", "3/2⁻ 1/2⁻ 7/2⁻, Nₘₐₓ = 12, -0.132"], "range": [2, 2, 2.5]}, "legend": {"orient": "none", "legendX": 94, "legendY": 121, "padding": 7, "rowPadding": 4, "labelOffset": 14}}
      }
    },
    {
      "data": {"values": [{}]},
      "mark": {"type": "point", "opacity": 0},
      "encoding": {
        "x": {"datum": 0, "type": "quantitative", "axis": {"orient": "bottom", "values": [0, 0.5, 1, 1.5, 2, 2.5, 3, 3.5, 4, 4.5], "labels": false, "tickSize": -6, "title": null}},
        "y": {"datum": 0, "type": "quantitative", "axis": {"orient": "left", "values": [0, 10, 20, 30, 40, 50, 60, 70], "labels": false, "tickSize": -6, "title": null}}
      }
    },
    {
      "data": {"values": [{}]},
      "mark": {"type": "point", "opacity": 0},
      "encoding": {
        "x": {"datum": 0, "type": "quantitative", "axis": {"orient": "top", "values": [0, 0.5, 1, 1.5, 2, 2.5, 3, 3.5, 4, 4.5], "labels": false, "tickSize": -6, "title": null}},
        "y": {"datum": 0, "type": "quantitative", "axis": {"orient": "right", "values": [0, 10, 20, 30, 40, 50, 60, 70], "labels": false, "tickSize": -6, "title": null}}
      }
    },
    {
      "data": {"values": [{}]},
      "mark": {"type": "point", "opacity": 0},
      "encoding": {
        "x": {"datum": 0, "type": "quantitative", "axis": {"orient": "bottom", "values": [0.1,0.2,0.3,0.4,0.6,0.7,0.8,0.9,1.1,1.2,1.3,1.4,1.6,1.7,1.8,1.9,2.1,2.2,2.3,2.4,2.6,2.7,2.8,2.9,3.1,3.2,3.3,3.4,3.6,3.7,3.8,3.9,4.1,4.2,4.3,4.4], "labels": false, "tickSize": -3, "title": null}},
        "y": {"datum": 0, "type": "quantitative", "axis": {"orient": "left", "values": [2,4,6,8,12,14,16,18,22,24,26,28,32,34,36,38,42,44,46,48,52,54,56,58,62,64,66,68], "labels": false, "tickSize": -3, "title": null}}
      }
    },
    {
      "data": {"values": [{}]},
      "mark": {"type": "point", "opacity": 0},
      "encoding": {
        "x": {"datum": 0, "type": "quantitative", "axis": {"orient": "top", "values": [0.1,0.2,0.3,0.4,0.6,0.7,0.8,0.9,1.1,1.2,1.3,1.4,1.6,1.7,1.8,1.9,2.1,2.2,2.3,2.4,2.6,2.7,2.8,2.9,3.1,3.2,3.3,3.4,3.6,3.7,3.8,3.9,4.1,4.2,4.3,4.4], "labels": false, "tickSize": -3, "title": null}},
        "y": {"datum": 0, "type": "quantitative", "axis": {"orient": "right", "values": [2,4,6,8,12,14,16,18,22,24,26,28,32,34,36,38,42,44,46,48,52,54,56,58,62,64,66,68], "labels": false, "tickSize": -3, "title": null}}
      }
    },
    {
      "data": {"values": [{}]},
      "mark": {"type": "text", "fontSize": 16.5, "align": "center", "baseline": "middle"},
      "encoding": {"x": {"datum": 1.56, "type": "quantitative", "axis": null}, "y": {"datum": 60.3, "type": "quantitative", "axis": null}, "text": {"value": "⁷Be(p,γ)⁸B"}}
    },
    {
      "data": {"values": [{}]},
      "mark": {"type": "text", "fontSize": 14, "align": "center", "baseline": "middle"},
      "encoding": {"x": {"datum": 1.66, "type": "quantitative", "axis": null}, "y": {"datum": 49.5, "type": "quantitative", "axis": null}, "text": {"value": "SRG-N³LO Λ=1.73 fm⁻¹"}}
    },
    {
      "data": {"values": [{}]},
      "mark": {"type": "text", "fontSize": 14, "fontStyle": "italic", "align": "center", "baseline": "middle"},
      "encoding": {"x": {"datum": 0.37, "type": "quantitative", "axis": null}, "y": {"datum": 7.2, "type": "quantitative", "axis": null}, "text": {"value": "(b)"}}
    }
  ]
}
]
}
